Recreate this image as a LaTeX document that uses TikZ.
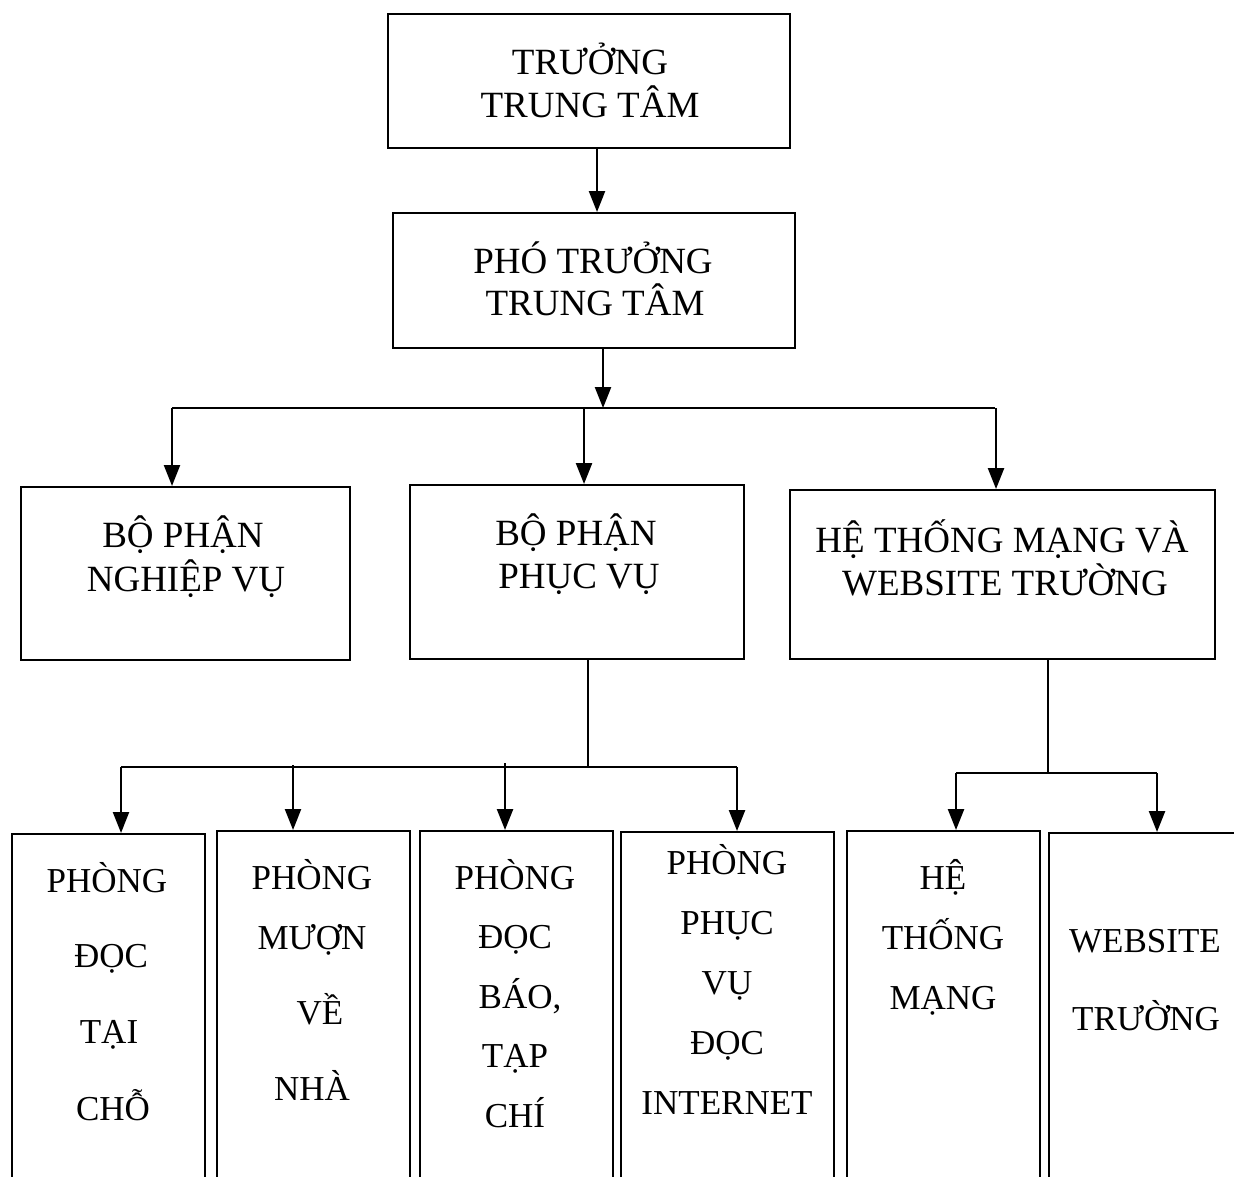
\documentclass[tikz,border=0pt]{standalone}
\usepackage{fontspec}
\setmainfont{Liberation Serif}
\usetikzlibrary{arrows.meta}

\tikzset{
  box/.style={draw, line width=2pt, rectangle, inner sep=0pt, anchor=north west},
  big/.style={font=\fontsize{37}{44}\selectfont, anchor=base, inner sep=0pt},
  small/.style={font=\fontsize{35}{42}\selectfont, anchor=base, inner sep=0pt},
  arr/.style={line width=2.4pt, -{Triangle[length=21pt,width=16pt]}},
  feed/.style={line width=1.6pt},
  bus/.style={line width=2.4pt}
}

\begin{document}
\begin{tikzpicture}[x=1pt,y=-1pt]
\clip (0,0) rectangle (1234,1176);
\fill[white] (0,0) rectangle (1234,1176);

% management
\node[box, minimum width=402pt, minimum height=134pt] (top) at (387,13) {};
\node[box, minimum width=402pt, minimum height=135pt] (vice) at (392,212) {};
\node[big] (topa) at (590,74) {TRƯỞNG};
\node[big] (topb) at (590,117) {TRUNG TÂM};
\node[big] (vicea) at (593,273) {PHÓ TRƯỞNG};
\node[big] (viceb) at (595,315) {TRUNG TÂM};

% departments
\node[box, minimum width=329pt, minimum height=173pt] (dnv) at (20,486) {};
\node[box, minimum width=334pt, minimum height=174pt] (dpv) at (409,484) {};
\node[box, minimum width=425pt, minimum height=169pt] (dnet) at (789,489) {};
\node[big] (dnva) at (183,547) {BỘ PHẬN};
\node[big] (dnvb) at (186,591) {NGHIỆP VỤ};
\node[big] (dpva) at (576,545) {BỘ PHẬN};
\node[big] (dpvb) at (579,588) {PHỤC VỤ};
\node[big] (dneta) at (1002,552) {HỆ THỐNG MẠNG VÀ};
\node[big] (dnetb) at (1005,595) {WEBSITE TRƯỜNG};

% rooms
\node[box, minimum width=193pt, minimum height=400pt] (r1) at (11,833) {};
\node[box, minimum width=193pt, minimum height=400pt] (r2) at (216,830) {};
\node[box, minimum width=193pt, minimum height=400pt] (r3) at (419,830) {};
\node[box, minimum width=213pt, minimum height=400pt] (r4) at (620,831) {};
\node[box, minimum width=193pt, minimum height=400pt] (r5) at (846,830) {};
\node[box, minimum width=220pt, minimum height=400pt] (r6) at (1048,832) {};

\node[small] (r1a) at (107,892) {PHÒNG};
\node[small] (r1b) at (111,967) {ĐỌC};
\node[small] (r1c) at (109,1043) {TẠI};
\node[small] (r1d) at (113,1120) {CHỖ};

\node[small] (r2a) at (312,889) {PHÒNG};
\node[small] (r2b) at (312,949) {MƯỢN};
\node[small] (r2c) at (320,1024) {VỀ};
\node[small] (r2d) at (312,1100) {NHÀ};

\node[small] (r3a) at (515,889) {PHÒNG};
\node[small] (r3b) at (515,948) {ĐỌC};
\node[small] (r3c) at (520,1008) {BÁO,};
\node[small] (r3d) at (515,1067) {TẠP};
\node[small] (r3e) at (515,1127) {CHÍ};

\node[small] (r4a) at (727,874) {PHÒNG};
\node[small] (r4b) at (727,934) {PHỤC};
\node[small] (r4c) at (727,994) {VỤ};
\node[small] (r4d) at (727,1054) {ĐỌC};
\node[small] (r4e) at (727,1114) {INTERNET};

\node[small] (r5a) at (943,889) {HỆ};
\node[small] (r5b) at (943,949) {THỐNG};
\node[small] (r5c) at (943,1009) {MẠNG};

\node[small] (r6a) at (1145,952) {WEBSITE};
\node[small] (r6b) at (1146,1030) {TRƯỜNG};

% connectors
\draw[arr] (top.south -| 597,0) -- (vice.north -| 597,0);

\coordinate (busA) at (603,408);
\draw[arr] (vice.south -| busA) -- (busA);
\draw[bus] (172,408) -- (995,408);
\draw[arr] (172,408) -- (dnv.north -| 172,0);
\draw[arr] (584,408) -- (dpv.north -| 584,0);
\draw[arr] (996,408) -- (dnet.north -| 996,0);

\coordinate (busB) at (588,767);
\draw[feed] (dpv.south -| busB) -- (busB);
\draw[bus] (121,767) -- (737,767);
\draw[arr] (121,767) -- (r1.north -| 121,0);
\draw[arr] (293,765) -- (r2.north -| 293,0);
\draw[arr] (505,763) -- (r3.north -| 505,0);
\draw[arr] (737,767) -- (r4.north -| 737,0);

\coordinate (busC) at (1048,773);
\draw[feed] (dnet.south -| busC) -- (busC);
\draw[bus] (956,773) -- (1157,773);
\draw[arr] (956,773) -- (r5.north -| 956,0);
\draw[arr] (1157,773) -- (r6.north -| 1157,0);
\end{tikzpicture}
\end{document}
